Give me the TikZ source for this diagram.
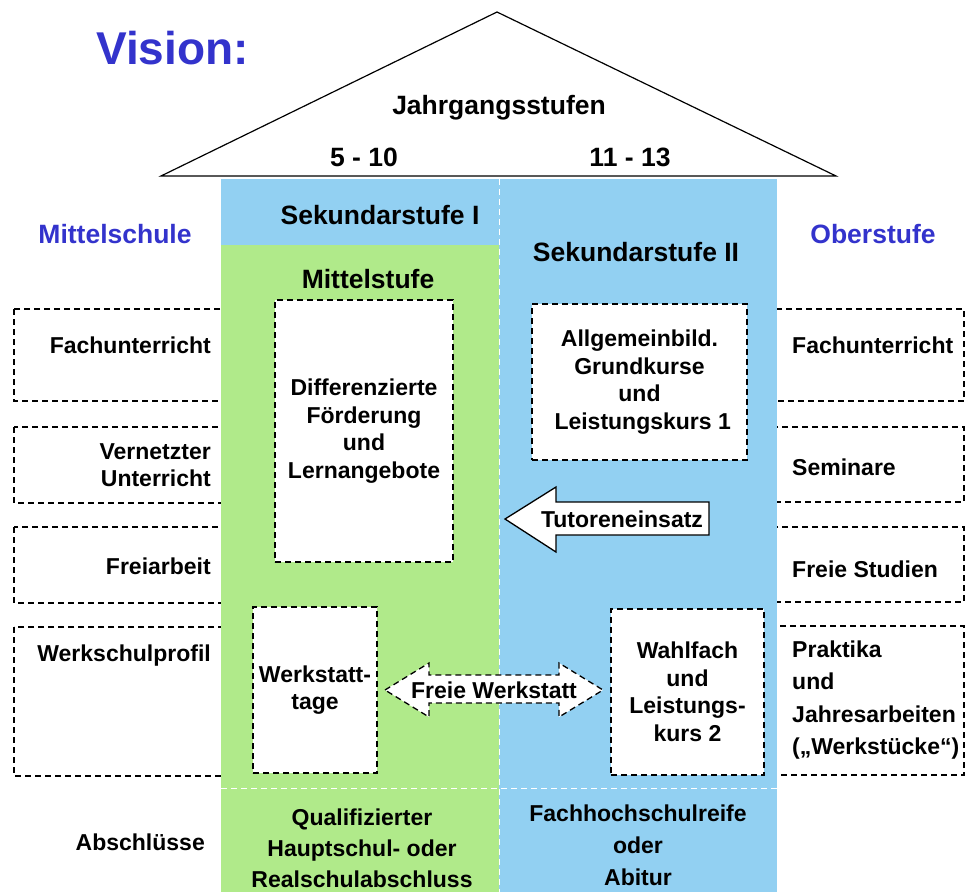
\documentclass[tikz,border=0pt]{standalone}
\usepackage{fontspec}
\setmainfont{Liberation Sans}
\definecolor{lgreen}{RGB}{176,234,138}
\definecolor{lblue}{RGB}{146,208,242}
\definecolor{tblue}{RGB}{51,51,204}
\tikzset{
  txt/.style={font=\bfseries\fontsize{23}{27.5}\selectfont, inner sep=0pt, align=center},
  head/.style={font=\bfseries\fontsize{26.5}{30}\selectfont, inner sep=0pt},
  bluehead/.style={head, text=tblue},
  dbox/.style={draw=black, dash pattern=on 6pt off 4pt, line width=1.3pt, fill=white},
  obox/.style={draw=black, dash pattern=on 6pt off 4pt, line width=1.3pt},
  wdiv/.style={draw=white, dash pattern=on 6pt off 4pt, line width=1pt},
}
\begin{document}
\begin{tikzpicture}[x=1pt,y=-1pt]
\useasboundingbox (0,0) rectangle (973,892);
% title
\node[font=\bfseries\fontsize{46}{50}\selectfont, text=tblue, anchor=west, inner sep=0pt] (vision) at (96,48) {Vision:};
% roof
\draw[line width=1.2pt, fill=white] (497,12) -- (161,176) -- (836,176) -- cycle;
\node[head] (jg) at (499,108) {Jahrgangsstufen};
\node[head] (j1) at (364,157) {5 - 10};
\node[head] (j2) at (630,157) {11 - 13};
% outer dashed boxes left
\draw[obox] (14,309) rectangle (240,401);
\draw[obox] (14,427) rectangle (240,503);
\draw[obox] (14,527) rectangle (240,603);
\draw[obox] (14,627) rectangle (240,776);
% outer dashed boxes right
\draw[obox] (760,309) rectangle (964,401);
\draw[obox] (760,427) rectangle (964,502);
\draw[obox] (760,527) rectangle (964,602);
\draw[obox] (760,626) rectangle (964,775);
% coloured body
\fill[lgreen] (221,245) rectangle (499,892);
\fill[lblue] (221,179) rectangle (499,245);
\fill[lblue] (499,179) rectangle (777,892);
\draw[wdiv] (499,179) -- (499,892);
\draw[wdiv] (221,788) -- (777,788);
% headings
\node[bluehead] (ms) at (115,234) {Mittelschule};
\node[bluehead] (os) at (873,234) {Oberstufe};
\node[head] (s1) at (380,215) {Sekundarstufe I};
\node[head] (s2) at (636,252) {Sekundarstufe II};
\node[head] (mst) at (368,279) {Mittelstufe};
% left labels
\node[txt, anchor=east] (l1) at (211,345) {Fachunterricht};
\node[txt, anchor=east, align=right] (l2) at (211,465) {Vernetzter\\Unterricht};
\node[txt, anchor=east] (l3) at (211,566) {Freiarbeit};
\node[txt, anchor=east] (l4) at (211,656) {Werkschulprofil};
\node[txt, anchor=east] (l5) at (205,842) {Abschlüsse};
% right labels
\node[txt, anchor=west] (r1) at (792,345) {Fachunterricht};
\node[txt, anchor=west] (r2) at (792,467) {Seminare};
\node[txt, anchor=west] (r3) at (792,569) {Freie Studien};
\node[txt, anchor=west, align=left, font=\bfseries\fontsize{23}{32.5}\selectfont] (r4) at (792,700) {Praktika\\und\\Jahresarbeiten\\(„Werkstücke“)};
% inner boxes
\node[dbox, txt, minimum width=178pt, minimum height=262pt] (diff) at (364,431) {Differenzierte\\Förderung\\und\\Lernangebote};
\node[dbox, txt, minimum width=215pt, minimum height=156pt] (allg) at (639.5,382) {Allgemeinbild.\\Grundkurse\\und\\\ Leistungskurs 1};
\node[dbox, txt, minimum width=124pt, minimum height=166pt] (wt) at (315,690) {Werkstatt-\\tage};
\node[dbox, txt, minimum width=153pt, minimum height=166pt] (wf) at (687.5,692) {Wahlfach\\und\\Leistungs-\\kurs 2};
% arrows
\draw[line width=1.3pt, fill=white] (505,519) -- (556,487) -- (556,502) -- (709,502) -- (709,535) -- (556,535) -- (556,552) -- cycle;
\node[txt] (tut) at (622,519) {Tutoreneinsatz};
\draw[line width=1.3pt, dash pattern=on 6pt off 4pt, fill=white] (385,690) -- (429,663) -- (429,675) -- (559,675) -- (559,663) -- (603,690) -- (559,717) -- (559,703) -- (429,703) -- (429,717) -- cycle;
\node[txt] (fw) at (494,690) {Freie Werkstatt};
% graduations
\node[txt, font=\bfseries\fontsize{23}{31}\selectfont] (ab1) at (362,848) {Qualifizierter\\Hauptschul- oder\\Realschulabschluss};
\node[txt, font=\bfseries\fontsize{23}{32}\selectfont] (ab2) at (638,845) {Fachhochschulreife\\oder\\Abitur};
\end{tikzpicture}
\end{document}
